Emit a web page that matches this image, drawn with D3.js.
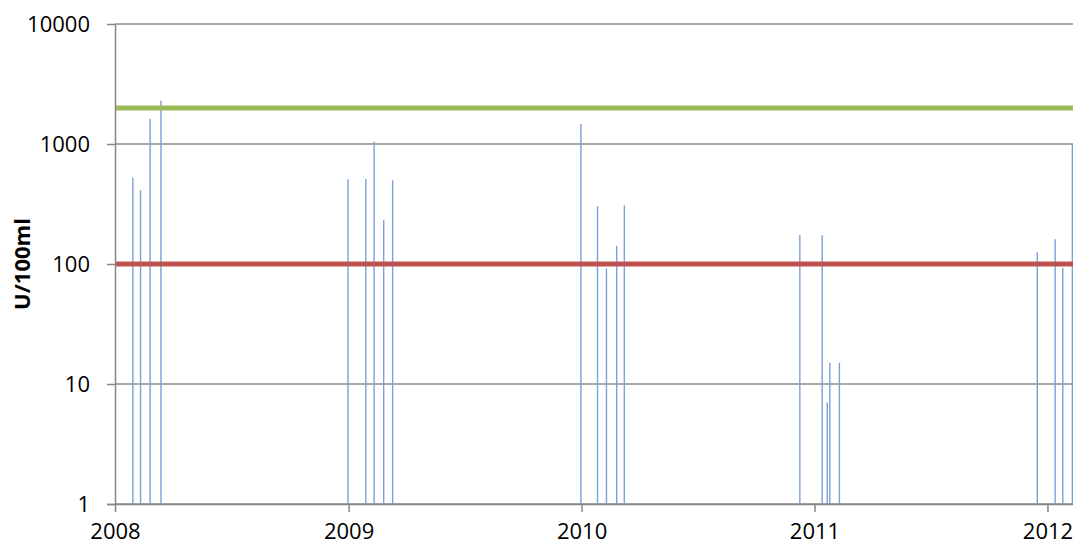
<!DOCTYPE html>
<html>
<head>
<meta charset="utf-8">
<script src="https://cdn.jsdelivr.net/npm/d3@7"></script>
<style>
  body { margin: 0; background: #fff; }
  text { font-family: "Open Sans", sans-serif; fill: #000; }
</style>
</head>
<body>
<div id="chart"></div>
<script>
const width = 1073;
const height = 548;

// sample dates and measured values (U/100ml)
const sampleDates = [
  "2008-01-29", "2008-02-10", "2008-02-25", "2008-03-13",
  "2008-12-31", "2009-01-28", "2009-02-10", "2009-02-25", "2009-03-11",
  "2009-12-31", "2010-01-26", "2010-02-09", "2010-02-25", "2010-03-09",
  "2010-12-09", "2011-01-13", "2011-01-21", "2011-01-25", "2011-02-09",
  "2011-12-16", "2012-01-13", "2012-01-25", "2012-02-09"
];
const sampleValues = [
  525, 414, 1616, 2295,
  508, 511, 1046, 233, 498,
  1468, 304, 92, 142, 308,
  174, 174, 7, 15, 15,
  125, 161, 93, 1000
];

// limit lines
const limitNames = ["upper", "lower"];
const limitValues = [2000, 100];
const limitColors = ["#9bbb59", "#c0504d"];

const yTicks = [1, 10, 100, 1000, 10000];
const xTickYears = ["2008", "2009", "2010", "2011", "2012"];

const parseDate = d3.utcParse("%Y-%m-%d");
const xStart = parseDate("2008-01-01");
const xEnd = parseDate("2012-02-10");

const plotLeft = 115, plotRight = 1073, plotTop = 24, plotBottom = 504;

const xScale = d3.scaleUtc()
  .domain([xStart, xEnd])
  .range([plotLeft, plotRight]);

const yScale = d3.scaleLog()
  .domain([1, 10000])
  .range([plotBottom, plotTop]);

const svg = d3.select("#chart")
  .append("svg")
  .attr("width", width)
  .attr("height", height);

// gridlines
svg.append("g")
  .selectAll("line")
  .data(yTicks)
  .join("line")
  .attr("x1", plotLeft)
  .attr("x2", plotRight)
  .attr("y1", d => yScale(d))
  .attr("y2", d => yScale(d))
  .attr("stroke", "#8c8c8c")
  .attr("stroke-width", 1.5);

// bars
const samples = sampleDates.map((d, i) => ({ date: parseDate(d), value: sampleValues[i] }));
svg.append("g")
  .selectAll("rect")
  .data(samples)
  .join("rect")
  .attr("x", d => xScale(d.date) - 0.7)
  .attr("width", 1.4)
  .attr("y", d => yScale(d.value))
  .attr("height", d => yScale(1) - yScale(d.value))
  .attr("fill", "#7aa1d8");

// limit lines
svg.append("g")
  .selectAll("line")
  .data(limitNames)
  .join("line")
  .attr("x1", xScale(xStart))
  .attr("x2", xScale(xEnd))
  .attr("y1", (d, i) => yScale(limitValues[i]))
  .attr("y2", (d, i) => yScale(limitValues[i]))
  .attr("stroke", (d, i) => limitColors[i])
  .attr("stroke-width", 5);

// axes
const xAxis = d3.axisBottom(xScale)
  .tickValues(xTickYears.map(y => parseDate(y + "-01-01")))
  .tickFormat(d3.utcFormat("%Y"))
  .tickSize(8)
  .tickSizeOuter(0)
  .tickPadding(11);

const gx = svg.append("g")
  .attr("transform", `translate(0, ${plotBottom})`)
  .call(xAxis);

const yAxis = d3.axisLeft(yScale)
  .tickValues(yTicks)
  .tickFormat(d3.format("d"))
  .tickSize(8)
  .tickSizeOuter(0)
  .tickPadding(17);

const gy = svg.append("g")
  .attr("transform", `translate(${plotLeft}, 0)`)
  .call(yAxis);

[gx, gy].forEach(g => {
  g.select(".domain").attr("stroke", "#868686").attr("stroke-width", 1.5);
  g.selectAll(".tick line").attr("stroke", "#868686").attr("stroke-width", 1.5);
  g.selectAll(".tick text")
    .style("font-family", "'Open Sans', sans-serif")
    .style("font-size", "22px")
    .attr("fill", "#000");
});
gx.select(".domain").attr("d", `M${plotLeft - 8},0.5H${plotRight}`);

svg.append("text")
  .attr("transform", `translate(30, ${(plotTop + plotBottom) / 2}) rotate(-90)`)
  .attr("text-anchor", "middle")
  .style("font-size", "22px")
  .style("font-weight", "bold")
  .text("U/100ml");
</script>
</body>
</html>
